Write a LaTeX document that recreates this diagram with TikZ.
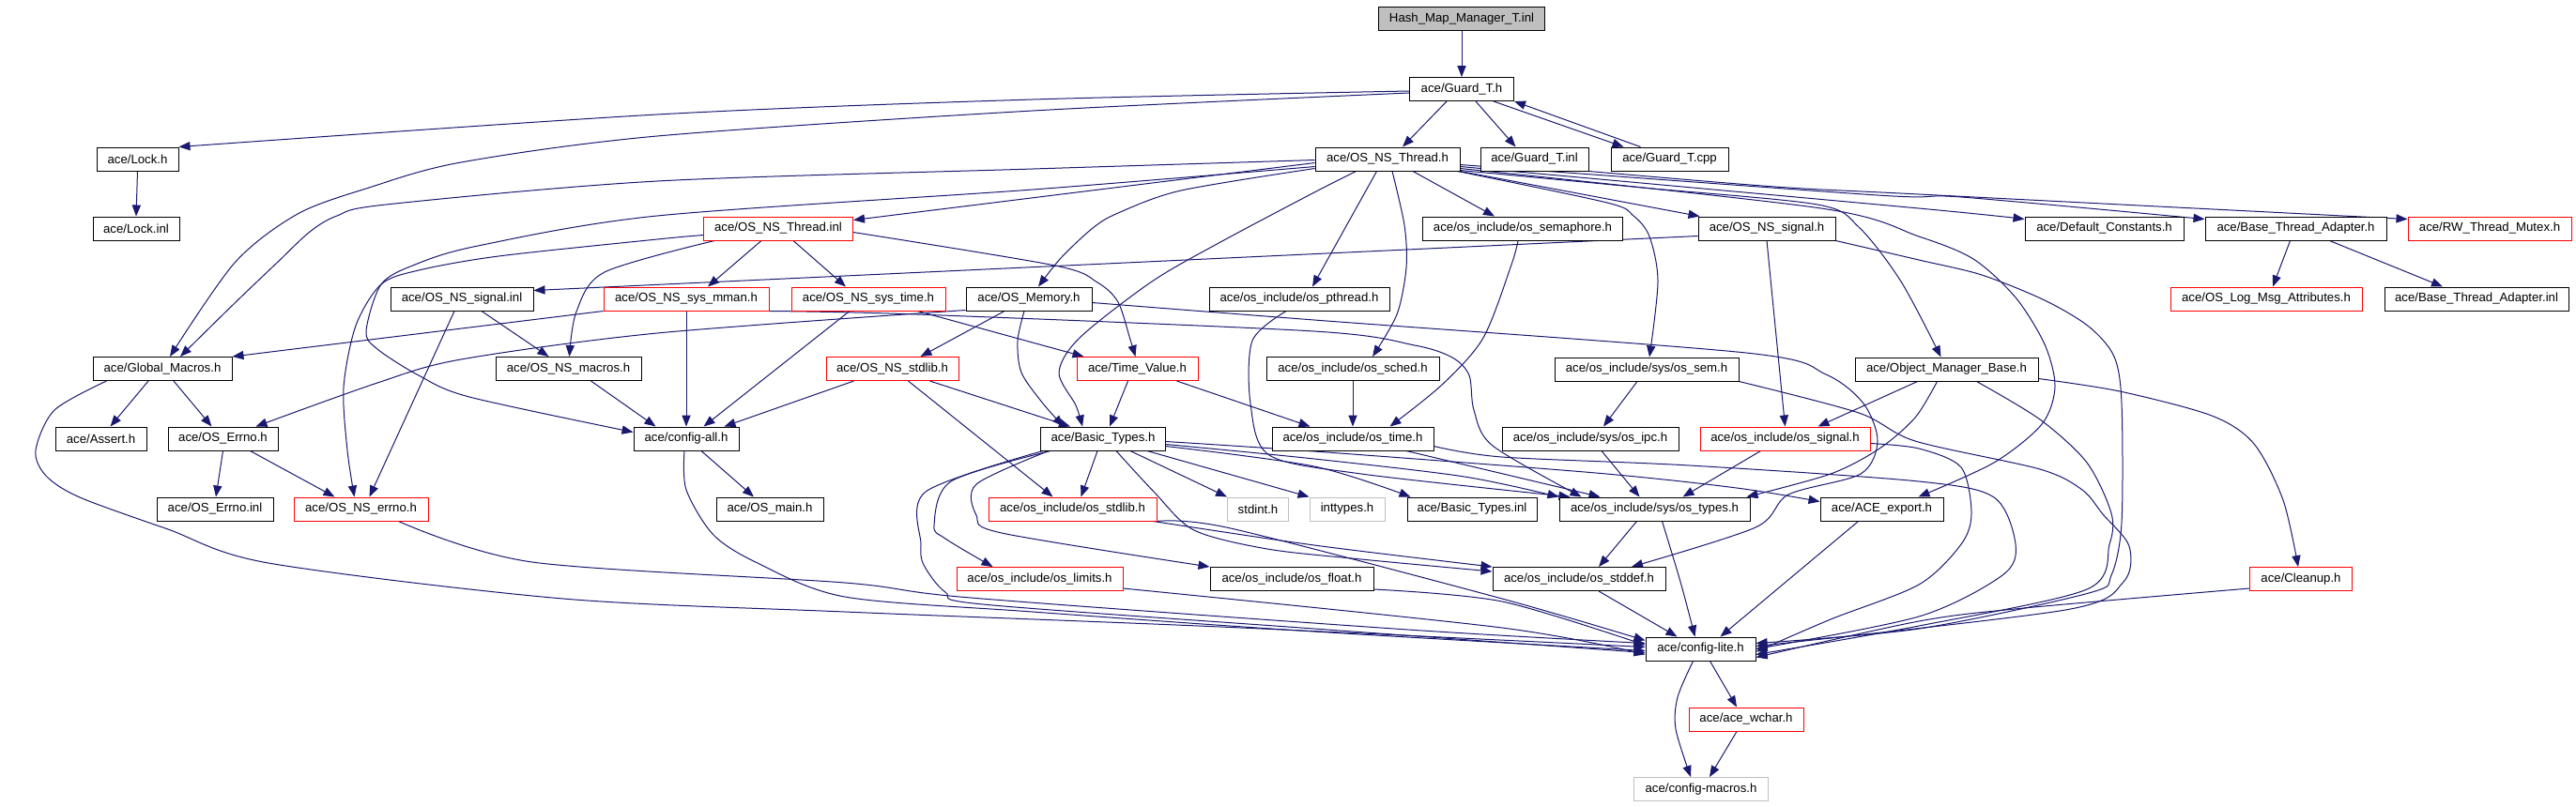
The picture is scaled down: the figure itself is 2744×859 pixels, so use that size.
\documentclass[tikz,border=0pt]{standalone}
\usepackage{fontspec}
\setmainfont{Liberation Sans}
\usetikzlibrary{arrows.meta,calc}
\definecolor{edgec}{HTML}{191970}
\definecolor{redb}{HTML}{FF0000}
\definecolor{grayb}{HTML}{BFBFBF}
\pgfdeclarelayer{bg}
\pgfsetlayers{bg,main}
\begin{document}
\begin{tikzpicture}[x=0.5pt,y=-0.5pt,
 box/.style={draw=black,fill=white,line width=0.5pt,minimum height=12.5pt,inner sep=0pt,font=\fontsize{6.6}{8}\selectfont,text=black},
 bw/.style={minimum width=#1*0.5pt},
 rbox/.style={box,draw=redb},
 gbox/.style={box,draw=grayb},
 e/.style={draw=edgec,line width=0.5pt,-{Triangle[length=6pt,width=4.6pt]}}]
\useasboundingbox (0,0) rectangle (2744,859);
% nodes
\node[box,bw=177,fill=grayb] (hm) at (1557,20) {Hash\_Map\_Manager\_T.inl};
\node[box,bw=111] (guard) at (1557,95) {ace/Guard\_T.h};
\node[box,bw=87] (lock) at (146.5,169.5) {ace/Lock.h};
\node[box,bw=154] (thr) at (1478,169.5) {ace/OS\_NS\_Thread.h};
\node[box,bw=115] (ginl) at (1634.5,169.5) {ace/Guard\_T.inl};
\node[box,bw=125] (gcpp) at (1778.5,169.5) {ace/Guard\_T.cpp};
\node[box,bw=92] (lockinl) at (145,243.5) {ace/Lock.inl};
\node[rbox,bw=159] (thrinl) at (829,243.5) {ace/OS\_NS\_Thread.inl};
\node[box,bw=213] (sem) at (1622,243.5) {ace/os\_include/os\_semaphore.h};
\node[box,bw=146] (sig) at (1882,243.5) {ace/OS\_NS\_signal.h};
\node[box,bw=169] (defc) at (2241.5,243.5) {ace/Default\_Constants.h};
\node[box,bw=193] (bta) at (2445.5,243.5) {ace/Base\_Thread\_Adapter.h};
\node[rbox,bw=174] (rw) at (2652,243.5) {ace/RW\_Thread\_Mutex.h};
\node[box,bw=152] (siginl) at (492,318.5) {ace/OS\_NS\_signal.inl};
\node[rbox,bw=176] (mman) at (731,318.5) {ace/OS\_NS\_sys\_mman.h};
\node[rbox,bw=164] (systime) at (925,318.5) {ace/OS\_NS\_sys\_time.h};
\node[box,bw=134] (mem) at (1096,318.5) {ace/OS\_Memory.h};
\node[box,bw=192] (pthr) at (1384,318.5) {ace/os\_include/os\_pthread.h};
\node[rbox,bw=204] (logm) at (2414,318.5) {ace/OS\_Log\_Msg\_Attributes.h};
\node[box,bw=196] (btainl) at (2638,318.5) {ace/Base\_Thread\_Adapter.inl};
\node[box,bw=148] (gm) at (173,393) {ace/Global\_Macros.h};
\node[box,bw=155] (macros) at (605.5,393) {ace/OS\_NS\_macros.h};
\node[rbox,bw=141] (stdlib) at (950.5,393) {ace/OS\_NS\_stdlib.h};
\node[rbox,bw=129] (tv) at (1211.5,393) {ace/Time\_Value.h};
\node[box,bw=184] (sched) at (1441,393) {ace/os\_include/os\_sched.h};
\node[box,bw=196] (ossem) at (1754,393.5) {ace/os\_include/sys/os\_sem.h};
\node[box,bw=195] (omb) at (2073.5,393.5) {ace/Object\_Manager\_Base.h};
\node[box,bw=97] (assert) at (107.5,467.5) {ace/Assert.h};
\node[box,bw=117] (errno) at (237.5,467.5) {ace/OS\_Errno.h};
\node[box,bw=112] (cfgall) at (731,467.5) {ace/config-all.h};
\node[box,bw=133] (bt) at (1175,467.5) {ace/Basic\_Types.h};
\node[box,bw=172] (ostime) at (1441,467.5) {ace/os\_include/os\_time.h};
\node[box,bw=188] (ipc) at (1694,467.5) {ace/os\_include/sys/os\_ipc.h};
\node[rbox,bw=181] (ossig) at (1901.5,467.5) {ace/os\_include/os\_signal.h};
\node[box,bw=124] (errinl) at (229,542.5) {ace/OS\_Errno.inl};
\node[rbox,bw=143] (nserr) at (384.5,542.5) {ace/OS\_NS\_errno.h};
\node[box,bw=114] (osmain) at (820,542.5) {ace/OS\_main.h};
\node[rbox,bw=179] (osstdlib) at (1142.5,542.5) {ace/os\_include/os\_stdlib.h};
\node[gbox,bw=65] (stdint) at (1340,542.5) {stdint.h};
\node[gbox,bw=80] (inttypes) at (1435,542.5) {inttypes.h};
\node[box,bw=138] (btinl) at (1568,542.5) {ace/Basic\_Types.inl};
\node[box,bw=203] (types) at (1762.5,542.5) {ace/os\_include/sys/os\_types.h};
\node[box,bw=131] (export) at (2004.5,542.5) {ace/ACE\_export.h};
\node[rbox,bw=177] (limits) at (1107.5,617) {ace/os\_include/os\_limits.h};
\node[box,bw=174] (osfloat) at (1376,617) {ace/os\_include/os\_float.h};
\node[box,bw=184] (stddef) at (1682,617) {ace/os\_include/os\_stddef.h};
\node[rbox,bw=109] (cleanup) at (2451,617) {ace/Cleanup.h};
\node[box,bw=117] (lite) at (1811.5,691.5) {ace/config-lite.h};
\node[rbox,bw=122] (wchar) at (1860,766.5) {ace/ace\_wchar.h};
\node[gbox,bw=143] (cmac) at (1812,841) {ace/config-macros.h};
% edges
\begin{pgfonlayer}{bg}
\fill[white] (0,0) rectangle (2744,859);
\draw[e] (hm.south) -- (guard.north);
\draw[e] plot[smooth] coordinates {($(guard.west)+(0,2)$) (1100,106) (700,122) (lock.north east)};
\draw[e] plot[smooth] coordinates {($(guard.west)+(0,4)$) (1100,118) (700,145) (491,173) (393,200) (317,228) (250,280) ($(gm.north)+(8,0)$)};
\draw[e] ($(guard.south)+(-16,0)$) -- ($(thr.north)+(16,0)$);
\draw[e] ($(guard.south)+(15,0)$) -- ($(ginl.north)+(-20,0)$);
\draw[e] ($(guard.south east)+(-22,0)$) -- ($(gcpp.north west)+(14,0)$);
\draw[e] ($(gcpp.north west)+(32,0)$) -- (guard.south east);
\draw[e] (lock.south) -- (lockinl.north);
% OS_NS_Thread.h
\draw[e] plot[smooth] coordinates {($(thr.west)+(0,1)$) (1100,180) (700,193) (411,218) (359,230) (330,247) (295,280) (250,323) ($(gm.north)+(19,0)$)};
\draw[e] ($(thr.west)+(0,4)$) -- ($(thrinl.east)+(0,-9)$);
\draw[e] plot[smooth] coordinates {($(thr.west)+(0,8)$) (1100,202) (700,230) (509,262) (442,282) (406,303) (390,353) (402,372) (446,400) (500,423) ($(cfgall.west)+(0,-7)$)};
\draw[e] plot[smooth] coordinates {($(thr.west)+(0,10)$) (1258,203) (1191,227) (1164,243) (1130,275) ($(mem.north)+(10,0)$)};
\draw[e] plot[smooth] coordinates {($(thr.south west)+(44,0)$) (1400,205) (1300,258) (1227,300) (1150,360) (1128,397) (1146,432) ($(bt.north)+(-22,0)$)};
\draw[e] ($(thr.south west)+(66,0)$) -- ($(pthr.north)+(14,0)$);
\draw[e] plot[smooth] coordinates {($(thr.south)+(5,0)$) (1496,240) (1498,285) (1488,335) ($(sched.north)+(21,0)$)};
\draw[e] ($(thr.south)+(27,0)$) -- ($(sem.north)+(-30,0)$);
\draw[e] (thr.south east) -- ($(sig.north west)+(2,0)$);
\draw[e] plot[smooth] coordinates {($(thr.south east)+(-3,0)$) (1712,216) (1740,230) (1757,252) (1766,300) ($(ossem.north)+(3,0)$)};
\draw[e] plot[smooth] coordinates {($(thr.east)+(0,12)$) (1750,200) (1936,218) (1980,242) (2025,300) ($(omb.north)+(-6,0)$)};
\draw[e] plot[smooth] coordinates {($(thr.east)+(0,8)$) (2044,222) ($(defc.west)+(0,-10)$)};
\draw[e] plot[smooth] coordinates {($(thr.east)+(0,6)$) (2000,208) (2089,210) ($(bta.west)+(0,-10)$)};
\draw[e] plot[smooth] coordinates {($(thr.east)+(0,10)$) (1940,222) (2044,252) (2102,276) (2147,317) (2178,367) (2189,412) (2175,452) (2124,493) ($(export.north east)+(-27,0)$)};
\draw[e] plot[smooth] coordinates {(ginl.south east) (1891,199) (2044,207) ($(rw.west)+(0,-10)$)};
% OS_NS_signal.h
\draw[e] ($(sig.west)+(0,8)$) -- ($(siginl.east)+(0,-9)$);
\draw[e] (sig.south) -- (ossig.north);
\draw[e] plot[smooth] coordinates {(sig.south east) (2044,277) (2111,293) (2178,320) (2225,348) (2252,380) (2260,430) (2260,557) (2249,613) (2225,632) (2044,670) ($(lite.east)+(0,-6)$)};
% OS_NS_Thread.inl
\draw[e] plot[smooth] coordinates {($(thrinl.south west)+(12,0)$) (644,290) (614,332) ($(macros.north)+(1,0)$)};
\draw[e] ($(thrinl.south)+(-18,0)$) -- ($(mman.north)+(23,0)$);
\draw[e] ($(thrinl.south)+(16,0)$) -- ($(systime.north)+(-24,0)$);
\draw[e] plot[smooth] coordinates {($(thrinl.east)+(0,4)$) (1124,283) (1169,301) (1191,322) (1204,362) ($(tv.north)+(-2,0)$)};
\draw[e] plot[smooth] coordinates {($(thrinl.west)+(0,7)$) (700,255) (531,273) (446,288) (406,303) (379,347) (366,413) (370,480) ($(nserr.north)+(-7,0)$)};
% row 4
\draw[e] ($(siginl.south)+(21,0)$) -- ($(macros.north west)+(57,0)$);
\draw[e] ($(siginl.south)+(-8,0)$) -- ($(nserr.north)+(9,0)$);
\draw[e] (mman.south west) -- (gm.north east);
\draw[e] (mman.south) -- (cfgall.north);
\draw[e] plot[smooth] coordinates {(mman.south east) (977,335) (1400,353) (1507,368) (1547,381) (1565,400) (1570,437) (1590,475) ($(types.north west)+(24,0)$)};
\draw[e] ($(systime.south)+(-20,0)$) -- ($(cfgall.north east)+(-38,0)$);
\draw[e] ($(systime.south east)+(-30,0)$) -- ($(tv.north west)+(8,0)$);
\draw[e] ($(mem.south)+(-26,0)$) -- ($(stdlib.north)+(30,0)$);
\draw[e] plot[smooth] coordinates {($(mem.south)+(-5,0)$) (1084,363) (1088,397) (1111,430) ($(bt.north)+(-42,0)$)};
\draw[e] plot[smooth] coordinates {($(mem.west)+(0,12)$) (700,355) (491,383) (402,408) ($(errno.north)+(35,0)$)};
\draw[e] plot[smooth] coordinates {($(mem.east)+(0,4)$) (1400,341) (1860,376) (1945,399) (1985,430) (2000,470) (1982,505) (1905,527) (1870,562) ($(stddef.north)+(56,0)$)};
\draw[e] plot[smooth] coordinates {($(pthr.south)+(-14,0)$) (1334,363) (1332,430) (1352,485) (1450,505) ($(types.north west)+(12,0)$)};
\draw[e] plot[smooth] coordinates {($(sem.south)+(-5,0)$) (1610,282) (1580,360) (1536,410) ($(ostime.north east)+(-47,0)$)};
\draw[e] ($(bta.south)+(-6,0)$) -- ($(logm.north)+(7,0)$);
\draw[e] ($(bta.south)+(36,0)$) -- ($(btainl.north)+(-36,0)$);
% row 5
\draw[e] ($(gm.south)+(-15,0)$) -- ($(assert.north)+(10,0)$);
\draw[e] ($(gm.south)+(12,0)$) -- ($(errno.north)+(-12,0)$);
\draw[e] plot[smooth] coordinates {($(gm.south west)+(15,0)$) (58,437) (38,480) (49,507) (85,530) (179,564) (286,600) (600,638) (900,652) (1300,668) ($(lite.west)+(0,-2)$)};
\draw[e] ($(macros.south)+(24,0)$) -- ($(cfgall.north west)+(24,0)$);
\draw[e] ($(stdlib.south west)+(30,0)$) -- ($(cfgall.north east)+(-16,0)$);
\draw[e] ($(stdlib.south east)+(-31,0)$) -- ($(bt.north)+(-35,0)$);
\draw[e] ($(stdlib.south)+(17,0)$) -- ($(osstdlib.north west)+(69,0)$);
\draw[e] ($(tv.south)+(-10,0)$) -- ($(bt.north)+(7,0)$);
\draw[e] ($(tv.south)+(42,0)$) -- ($(ostime.north west)+(41,0)$);
\draw[e] (sched.south) -- (ostime.north);
\draw[e] ($(ossem.south)+(-10,0)$) -- ($(ipc.north)+(14,0)$);
\draw[e] plot[smooth] coordinates {(ossem.south east) (1980,440) (2040,470) (2173,500) (2218,522) (2240,548) (2268,582) (2262,620) (2200,650) ($(lite.east)+(0,-3)$)};
\draw[e] ($(omb.south west)+(67,0)$) -- ($(ossig.north east)+(-56,0)$);
\draw[e] plot[smooth] coordinates {($(omb.south)+(-10,0)$) (2040,445) (2002,478) (1950,505) ($(types.north east)+(-4,0)$)};
\draw[e] plot[smooth] coordinates {($(omb.east)+(0,10)$) (2258,417) (2356,443) (2401,473) (2432,533) ($(cleanup.north)+(-3,0)$)};
\draw[e] plot[smooth] coordinates {($(omb.south)+(32,0)$) (2173,447) (2223,493) (2249,547) (2247,580) (2223,628) (2044,667) ($(lite.east)+(0,6)$)};
% row 6
\draw[e] (errno.south) -- ($(errinl.north)+(1,0)$);
\draw[e] ($(errno.south east)+(-30,0)$) -- ($(nserr.north west)+(44,0)$);
\draw[e] ($(cfgall.south)+(16,0)$) -- ($(osmain.north)+(-17,0)$);
\draw[e] plot[smooth] coordinates {($(cfgall.south)+(-2,0)$) (731,522) (760,570) (807,600) (900,636) (1100,652) (1400,673) ($(lite.west)+(0,2)$)};
\draw[e] ($(bt.south)+(-6,0)$) -- ($(osstdlib.north)+(9,0)$);
\draw[e] ($(bt.south)+(29,0)$) -- (stdint.north west);
\draw[e] ($(bt.south)+(47,0)$) -- (inttypes.north west);
\draw[e] plot[smooth] coordinates {($(bt.east)+(0,8)$) (1400,497) ($(btinl.north west)+(4,0)$)};
\draw[e] plot[smooth] coordinates {($(bt.east)+(0,6)$) (1400,489) (1560,508) (types.north west)};
\draw[e] plot[smooth] coordinates {($(bt.east)+(0,3)$) (1400,481) (1700,504) (1850,520) ($(export.west)+(0,-8)$)};
\draw[e] plot[smooth] coordinates {($(bt.south)+(14,0)$) (1230,525) (1272,565) (1350,585) (1450,596) ($(stddef.west)+(0,-8)$)};
\draw[e] plot[smooth] coordinates {($(bt.south west)+(11,0)$) (1013,513) (995,560) (1007,574) ($(limits.north west)+(39,0)$)};
\draw[e] plot[smooth] coordinates {($(bt.south west)+(9,0)$) (1040,516) (1040,549) (1067,568) (osfloat.north west)};
\draw[e] plot[smooth] coordinates {($(bt.south west)+(3,0)$) (986,524) (981,580) (984,602) (1007,631) (1047,644) (1400,670) ($(lite.west)+(0,4)$)};
\draw[e] ($(ostime.south)+(57,0)$) -- ($(types.north)+(-58,0)$);
\draw[e] plot[smooth] coordinates {($(ostime.east)+(0,8)$) (1600,487) (1800,496) (2044,513) (2124,530) (2147,580) (2133,613) (2044,657) (lite.east)};
\draw[e] ($(ipc.south)+(12,0)$) -- ($(types.north)+(-16,0)$);
\draw[e] ($(ossig.south)+(-26,0)$) -- ($(types.north)+(30,0)$);
\draw[e] plot[smooth] coordinates {($(ossig.east)+(0,5)$) (2044,478) (2089,498) (2100,547) (2089,580) (2044,623) (1950,660) ($(lite.east)+(0,3)$)};
% row 7
\draw[e] plot[smooth] coordinates {($(nserr.south)+(40,0)$) (567,599) (900,621) (1034,637) (1500,671) ($(lite.west)+(0,-6)$)};
\draw[e] plot[smooth] coordinates {($(osstdlib.south east)+(-4,0)$) (1400,581) (stddef.north west)};
\draw[e] plot[smooth] coordinates {(osstdlib.south east) (1311,563) (1600,638) ($(lite.west)+(0,-9)$)};
\draw[e] ($(types.south)+(-19,0)$) -- ($(stddef.north)+(21,0)$);
\draw[e] plot[smooth] coordinates {($(types.south)+(8,0)$) (1790,620) ($(lite.north)+(-6,0)$)};
\draw[e] ($(export.south)+(-25,0)$) -- ($(lite.north)+(21,0)$);
% row 8
\draw[e] plot[smooth] coordinates {($(limits.east)+(0,10)$) (1600,669) ($(lite.west)+(0,6)$)};
\draw[e] plot[smooth] coordinates {($(osfloat.east)+(0,11)$) (1600,641) ($(lite.west)+(0,-4)$)};
\draw[e] ($(stddef.south)+(21,0)$) -- ($(lite.north west)+(34,0)$);
\draw[e] plot[smooth] coordinates {($(cleanup.west)+(0,10)$) (2156,648) (2044,662) ($(lite.east)+(0,9)$)};
% bottom
\draw[e] ($(lite.south)+(10,0)$) -- ($(wchar.north)+(-10,0)$);
\draw[e] plot[smooth] coordinates {($(lite.south)+(-8,0)$) (1787,743) (1785,777) ($(cmac.north)+(-11,0)$)};
\draw[e] ($(wchar.south)+(-10,0)$) -- ($(cmac.north)+(9,0)$);
\end{pgfonlayer}
\end{tikzpicture}
\end{document}
